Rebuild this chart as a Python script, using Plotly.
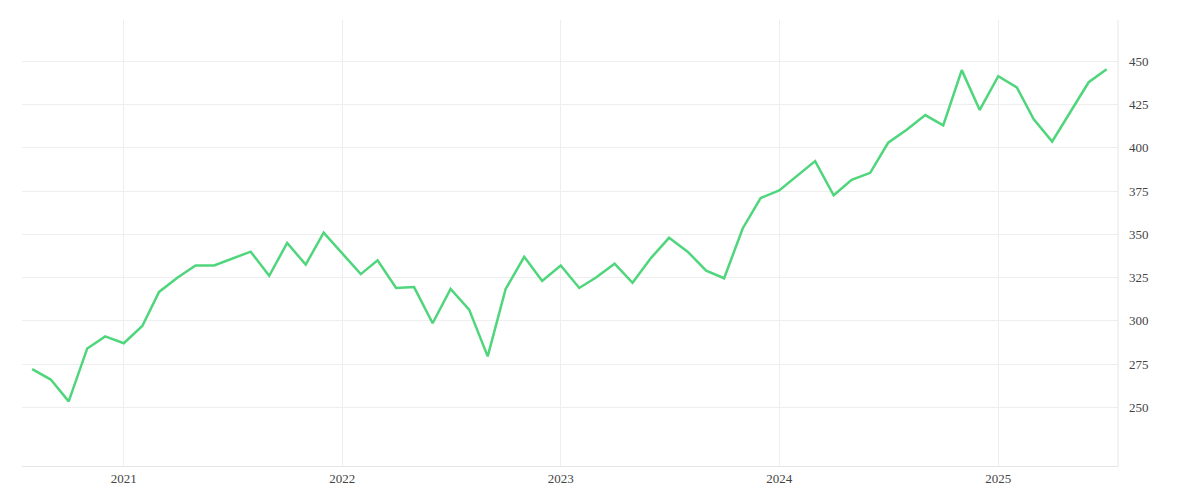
import plotly.graph_objects as go
import pandas as pd

dates = pd.date_range("2020-08-01", periods=60, freq="MS")
values = [272, 266, 253.4, 284, 291, 287, 297, 316.7, 325, 332, 332, 336, 340, 326, 345, 332.5,
          351, 339, 327, 335, 319, 319.5, 298.6, 318.4, 306.5, 279.4, 318.4, 337, 323, 332,
          319, 325, 333, 322, 336.4, 348, 340, 329, 324.6, 353.4, 371, 375.4, 384, 392.4, 372.6,
          381.6, 385.6, 403, 410.5, 419, 413, 445, 422, 441.5, 435, 416.7, 403.7, 420.6, 438, 445.5]
tick_vals = [250, 275, 300, 325, 350, 375, 400, 425, 450]

fig = go.Figure(go.Scatter(x=dates, y=values, mode="lines",
                           line=dict(color="#4fd67c", width=2.5)))
fig.update_layout(
    width=1200, height=500, plot_bgcolor="white", paper_bgcolor="white",
    margin=dict(l=14, r=90, t=12, b=42, autoexpand=False), showlegend=False,
    font=dict(family="Liberation Serif", size=13, color="#444"),
    xaxis=dict(showgrid=True, gridcolor="#eeeeee", dtick="M12", tickformat="%Y",
               range=["2020-07-15", "2025-07-20"], showline=True, linecolor="#e6e6e6",
               mirror=False, zeroline=False, ticks=""),
    yaxis=dict(side="right", showgrid=True, gridcolor="#eeeeee", tickvals=tick_vals,
               range=[216, 474], zeroline=False, showline=False, ticks="", ticklabelstandoff=10),
)
fig.add_shape(type="line", xref="paper", yref="paper", x0=1, x1=1, y0=0, y1=1,
              line=dict(color="#e6e6e6", width=1))
fig.write_html("out.html")
